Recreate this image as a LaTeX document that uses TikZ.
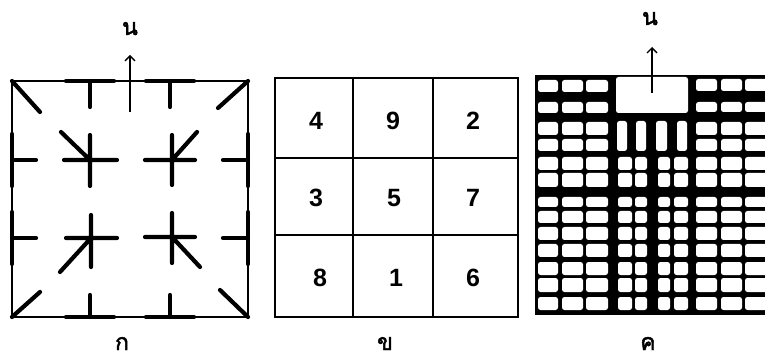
\documentclass[tikz,border=0pt]{standalone}
\usepackage{fontspec}
\setmainfont{Liberation Sans}
\newfontfamily\thaifont[Script=Thai,FakeBold=2]{Loma}
\usetikzlibrary{arrows.meta}
\begin{document}
\begin{tikzpicture}[x=1pt,y=-1pt,
  stroke/.style={line width=4.2pt, line cap=round},
  frame/.style={line width=2.8pt},
  gridline/.style={line width=1.8pt},
  cell/.style={fill=white, rounded corners=2.5pt},
  digit/.style={font=\fontsize{25}{25}\selectfont\bfseries, inner sep=0pt},
  thai/.style={font=\thaifont\fontsize{23}{23}\selectfont, inner sep=0pt, anchor=base},
  northarrow/.style={line width=1.4pt, -{Straight Barb[length=5pt,width=10pt,line width=1.4pt]}}
]
\useasboundingbox (0,0) rectangle (765,363);

% ---------- Figure A (left) ----------
\draw[frame] (12,81) rectangle (248,317);
\foreach \x in {90,170} {
  \draw[stroke] (\x-24,81) -- (\x+24,81);
  \draw[stroke] (\x,81) -- (\x,107);
  \draw[stroke] (\x-24,317) -- (\x+24,317);
  \draw[stroke] (\x,317) -- (\x,295);
}
\foreach \y in {160,238} {
  \draw[stroke] (12,\y-26) -- (12,\y+26);
  \draw[stroke] (12,\y) -- (36,\y);
  \draw[stroke] (248,\y-26) -- (248,\y+26);
  \draw[stroke] (248,\y) -- (223,\y);
}
\draw[stroke] (12,81) -- (40,112);
\draw[stroke] (248,81) -- (218,108);
\draw[stroke] (12,317) -- (40,292);
\draw[stroke] (248,317) -- (220,290);
% crosses
\draw[stroke] (64,160) -- (117,160) (90,135) -- (90,186) (90,160) -- (61,132);
\draw[stroke] (145,160) -- (195,160) (172,135) -- (172,185) (172,160) -- (197,132);
\draw[stroke] (66,238) -- (117,238) (91,215) -- (91,267) (91,238) -- (60,272);
\draw[stroke] (145,237) -- (195,237) (172,213) -- (172,263) (172,237) -- (200,267);
% north arrow
\node[thai] (nA) at (130,35) {น};
\coordinate (baseA) at (130,112);
\coordinate (tipA) at (130,55);
\draw[northarrow] (baseA) -- (tipA);
\node[thai] (labA) at (122,350) {ก};

% ---------- Figure B (middle) ----------
\draw[gridline] (275,78) rectangle (518,317);
\draw[gridline] (353,78) -- (353,317) (433,78) -- (433,317)
                (275,158) -- (518,158) (275,235) -- (518,235);
\node[digit] (d4) at (316,121) {4};
\node[digit] (d9) at (393,121) {9};
\node[digit] (d2) at (473,121) {2};
\node[digit] (d3) at (316,198) {3};
\node[digit] (d5) at (394,198) {5};
\node[digit] (d7) at (473,198) {7};
\node[digit] (d8) at (320,278) {8};
\node[digit] (d1) at (396,278) {1};
\node[digit] (d6) at (473,278) {6};
\node[thai] (labB) at (385,350) {ข};

% ---------- Figure C (right) ----------
\fill[black] (535,75) rectangle (765,315);
\foreach \ya/\yb in {80/92,102/113} {
  \foreach \xa/\xb in {538/558,562/583,586/608} {\fill[cell] (\xa,\ya) rectangle (\xb,\yb);}
}
\foreach \ya/\yb in {79/91,102/112} {
  \foreach \xa/\xb in {696/717,721/742,745/770} {\fill[cell] (\xa,\ya) rectangle (\xb,\yb);}
}
\fill[cell] (616,77) rectangle (688,113);
\foreach \ya/\yb in {122/135,139/151,157/170,173/187,197/207,211/223,227/240,244/257,262/275,278/292,297/310} {
  \foreach \xa/\xb in {538/558,562/583,586/608,696/717,721/742,745/770} {\fill[cell] (\xa,\ya) rectangle (\xb,\yb);}
}
\foreach \xa/\xb in {617/627,636/646,656/667,677/687} {\fill[cell] (\xa,121) rectangle (\xb,151);}
\foreach \ya/\yb in {157/170,173/187,197/207,211/223,227/240,244/257,262/275,278/292,297/310} {
  \foreach \xa/\xb in {618/632,635/647,658/670,674/688} {\fill[cell] (\xa,\ya) rectangle (\xb,\yb);}
}
\node[thai] (nC) at (650,25) {น};
\coordinate (baseC) at (652,93);
\coordinate (tipC) at (652,47);
\draw[northarrow] (baseC) -- (tipC);
\node[thai] (labC) at (648,350) {ค};
\end{tikzpicture}
\end{document}
